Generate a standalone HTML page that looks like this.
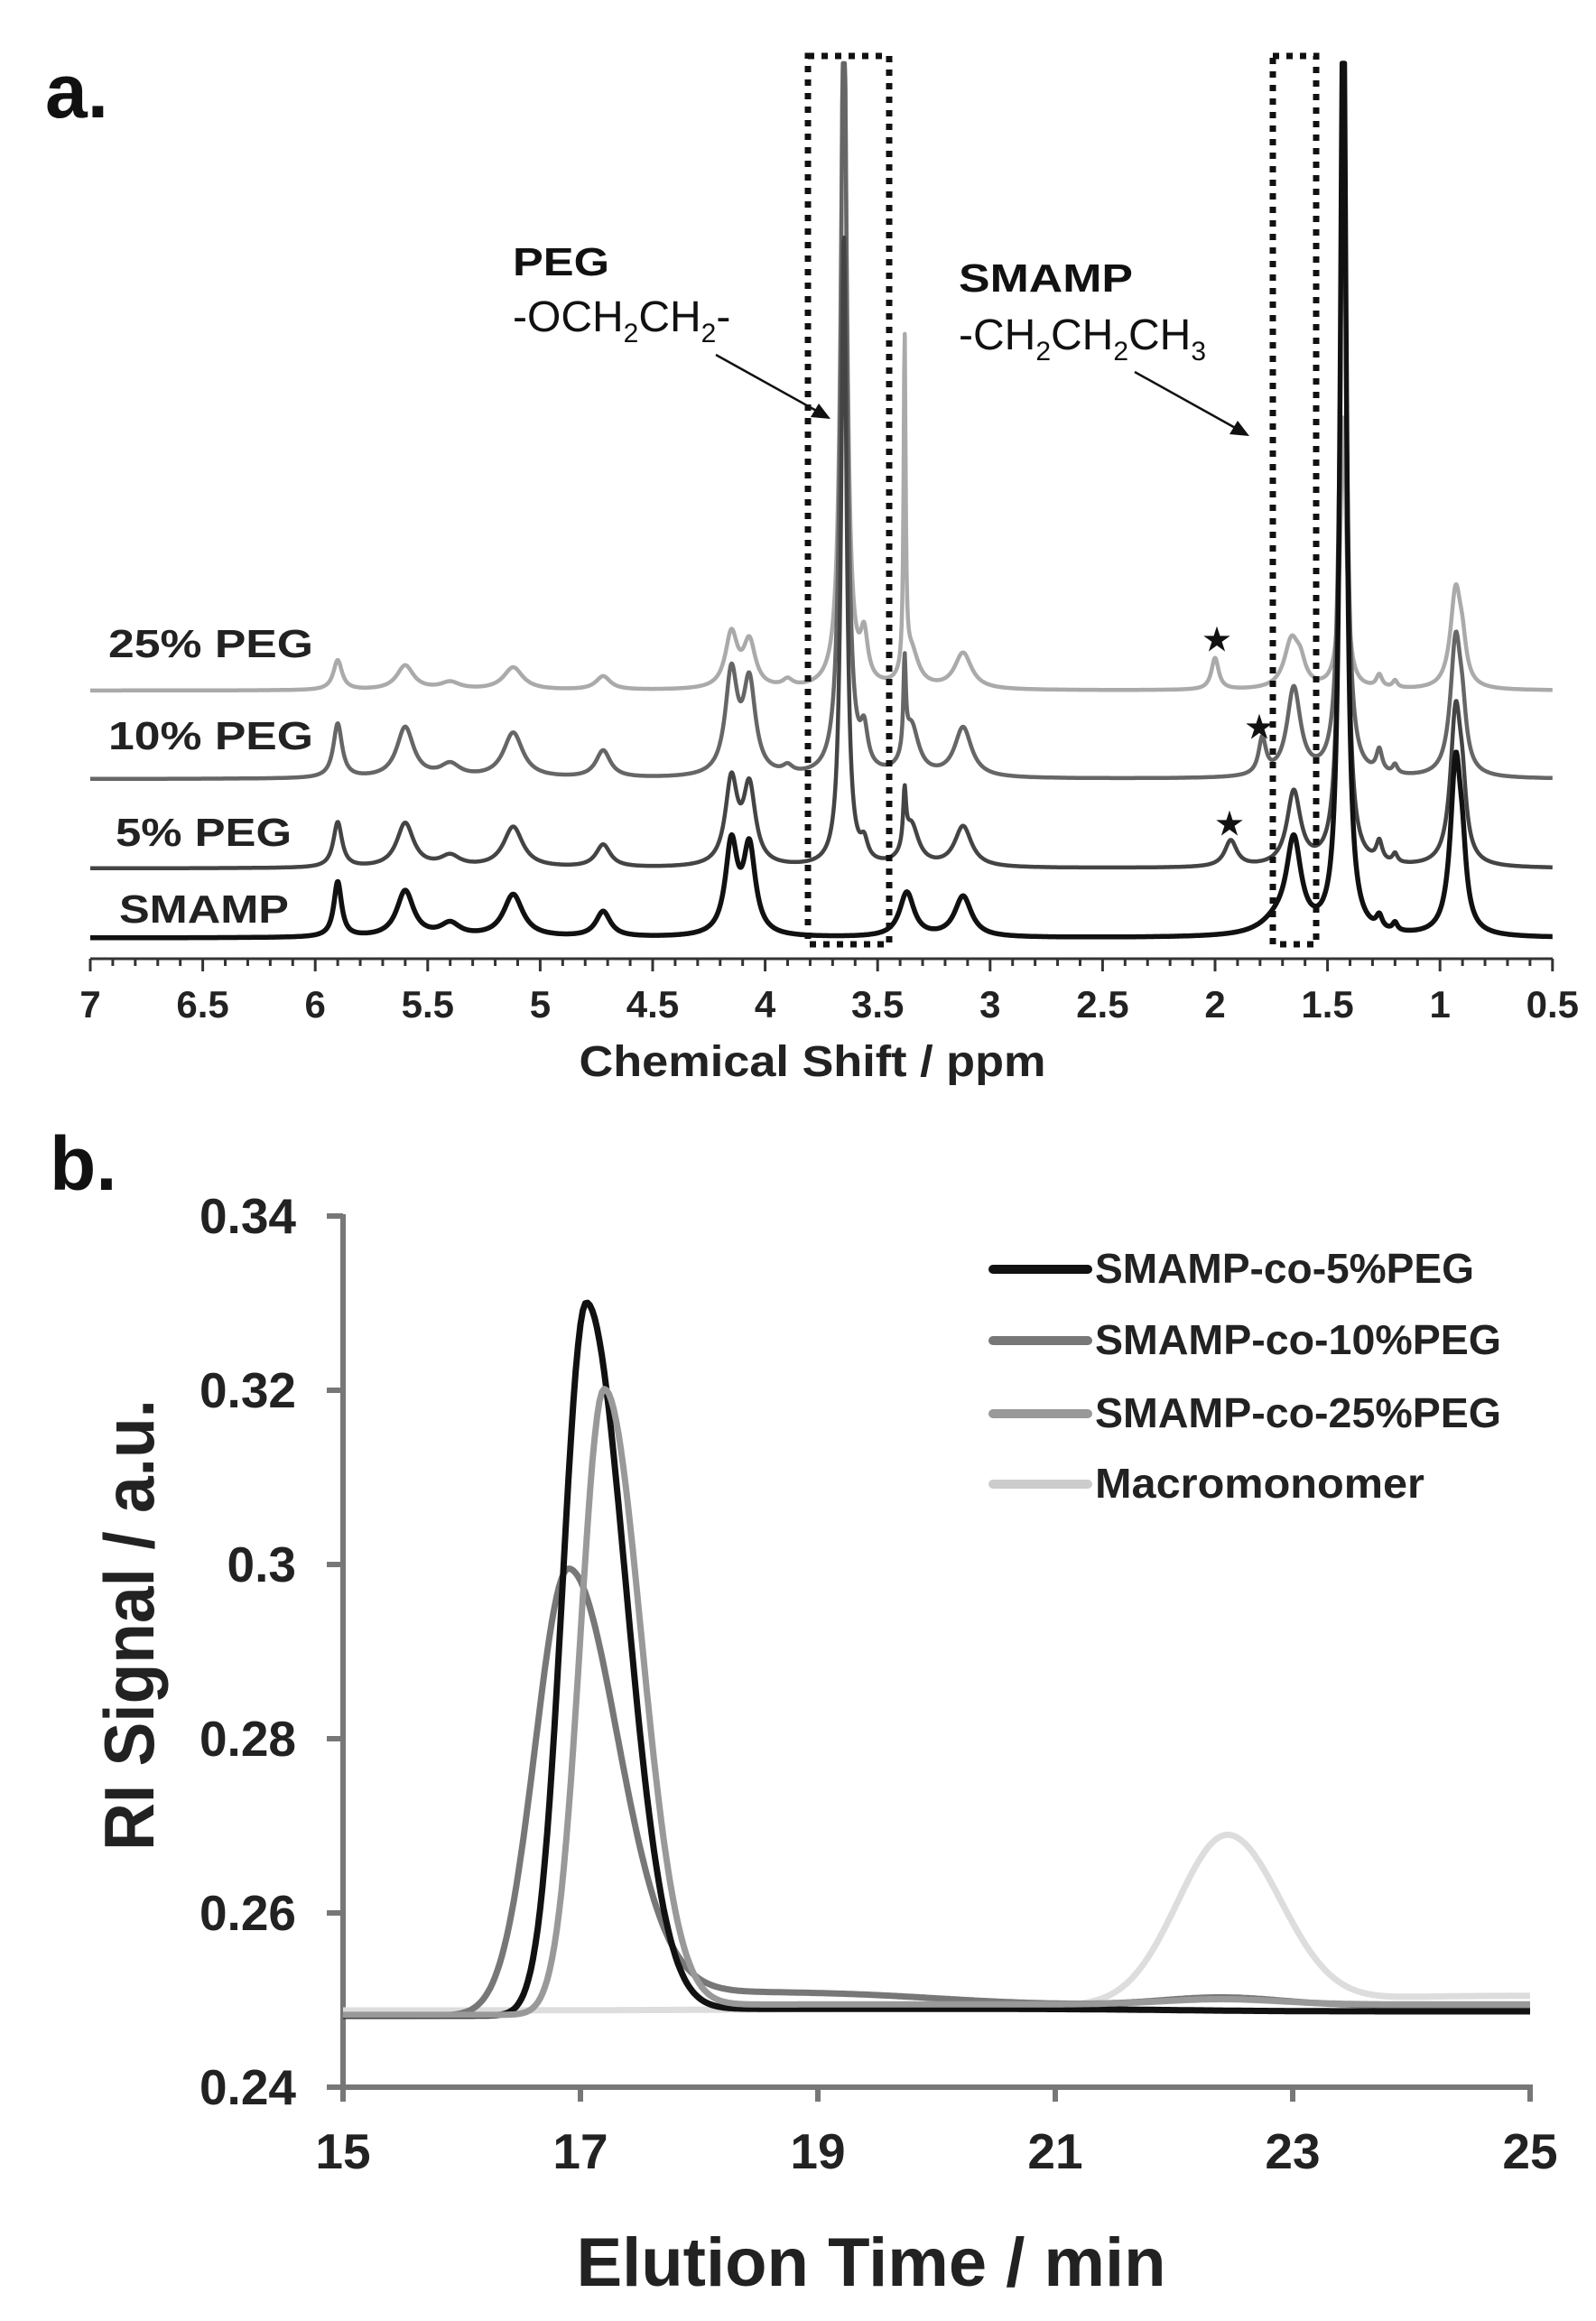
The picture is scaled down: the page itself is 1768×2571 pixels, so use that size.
<!DOCTYPE html>
<html><head><meta charset="utf-8"><style>
html,body{margin:0;padding:0;background:#fff}
svg{display:block}
text{font-family:"Liberation Sans",sans-serif;font-weight:bold}
</style></head><body>
<svg id="s" width="1768" height="2571" viewBox="0 0 1768 2571" xmlns="http://www.w3.org/2000/svg">
<rect width="1768" height="2571" fill="#fff"/>
<text x="50" y="130" font-size="84" fill="#111">a.</text>
<g id="nmr"></g>
<rect x="895" y="62" width="90" height="984" fill="none" stroke="#111" stroke-width="7" stroke-dasharray="7,8"/>
<rect x="1410" y="62" width="48" height="984" fill="none" stroke="#111" stroke-width="7" stroke-dasharray="7,8"/>
<line x1="100" y1="1062" x2="1720" y2="1062" stroke="#333" stroke-width="3"/>
<g id="ticks"></g>
<text x="900" y="1192" font-size="48" text-anchor="middle" fill="#222" textLength="517" lengthAdjust="spacingAndGlyphs">Chemical Shift / ppm</text>
<g font-size="44" fill="#222">
<text x="120" y="728" textLength="227" lengthAdjust="spacingAndGlyphs">25% PEG</text>
<text x="120" y="830" textLength="227" lengthAdjust="spacingAndGlyphs">10% PEG</text>
<text x="128" y="937" textLength="195" lengthAdjust="spacingAndGlyphs">5% PEG</text>
<text x="132" y="1022" textLength="188" lengthAdjust="spacingAndGlyphs">SMAMP</text>
</g>
<text x="568" y="305" font-size="44" fill="#111" textLength="107" lengthAdjust="spacingAndGlyphs">PEG</text>
<text x="568" y="367" font-size="48" fill="#111" style="font-weight:normal">-OCH<tspan font-size="30" dy="12">2</tspan><tspan dy="-12">CH</tspan><tspan font-size="30" dy="12">2</tspan><tspan dy="-12">-</tspan></text>
<text x="1062" y="323" font-size="44" fill="#111" textLength="193" lengthAdjust="spacingAndGlyphs">SMAMP</text>
<text x="1062" y="387" font-size="48" fill="#111" style="font-weight:normal">-CH<tspan font-size="30" dy="12">2</tspan><tspan dy="-12">CH</tspan><tspan font-size="30" dy="12">2</tspan><tspan dy="-12">CH</tspan><tspan font-size="30" dy="12">3</tspan></text>
<line x1="793" y1="393" x2="908" y2="457" stroke="#111" stroke-width="2.5"/>
<polygon points="920,464 898,462 907,447" fill="#111"/>
<line x1="1257" y1="412" x2="1372" y2="476" stroke="#111" stroke-width="2.5"/>
<polygon points="1384,483 1362,481 1371,466" fill="#111"/>
<g font-size="34" fill="#111" style="font-weight:normal">
<text x="1348" y="720" text-anchor="middle">★</text>
<text x="1395" y="817" text-anchor="middle">★</text>
<text x="1362" y="924" text-anchor="middle">★</text>
</g>

<text x="55" y="1318" font-size="84" fill="#111">b.</text>
<line x1="380" y1="1345" x2="380" y2="2315" stroke="#777" stroke-width="6"/>
<line x1="377" y1="2312" x2="1698" y2="2312" stroke="#777" stroke-width="6"/>
<g id="gticks"></g>
<g id="gpc"></g>
<text x="965" y="2532" font-size="76" text-anchor="middle" fill="#222">Elution Time / min</text>
<text transform="translate(170,1800) rotate(-90)" font-size="78" text-anchor="middle" fill="#222" textLength="500" lengthAdjust="spacingAndGlyphs">RI Signal / a.u.</text>
<g font-size="46" fill="#222">
<line x1="1100" y1="1406" x2="1205" y2="1406" stroke="#111" stroke-width="10" stroke-linecap="round"/><text x="1213" y="1421" textLength="420" lengthAdjust="spacingAndGlyphs">SMAMP-co-5%PEG</text>
<line x1="1100" y1="1485" x2="1205" y2="1485" stroke="#777" stroke-width="10" stroke-linecap="round"/><text x="1213" y="1500" textLength="450" lengthAdjust="spacingAndGlyphs">SMAMP-co-10%PEG</text>
<line x1="1100" y1="1566" x2="1205" y2="1566" stroke="#999" stroke-width="10" stroke-linecap="round"/><text x="1213" y="1581" textLength="450" lengthAdjust="spacingAndGlyphs">SMAMP-co-25%PEG</text>
<line x1="1100" y1="1644" x2="1205" y2="1644" stroke="#ccc" stroke-width="10" stroke-linecap="round"/><text x="1213" y="1659" textLength="365" lengthAdjust="spacingAndGlyphs">Macromonomer</text>
</g>
</svg>
<script>
var NS="http://www.w3.org/2000/svg";
function el(p,t,a,txt){var e=document.createElementNS(NS,t);for(var k in a)e.setAttribute(k,a[k]);if(txt!=null)e.textContent=txt;p.appendChild(e);return e;}
var px=function(ppm){return 100+(7-ppm)*249.2;};
var T=document.getElementById('ticks');
for(var i=0;i<=65;i++){var v=7-i*0.1;var x=px(v);var major=(i%5==0);el(T,'line',{x1:x,y1:1062,x2:x,y2:major?1076:1070,stroke:'#333','stroke-width':3});}
var lbl=['7','6.5','6','5.5','5','4.5','4','3.5','3','2.5','2','1.5','1','0.5'];
for(var i=0;i<lbl.length;i++){el(T,'text',{x:px(7-i*0.5),y:1127,'font-size':42,'text-anchor':'middle',fill:'#222'},lbl[i]);}
var specs=[
 {b:765,c:'#aaa',w:4.5,pk:[[5.9,33,.018],[5.6,27,.035],[5.4,8,.04],[5.12,25,.04],[4.72,15,.03],[4.15,60,.025],[4.07,50,.025],[3.9,8,.02],[3.65,800,.012],[3.56,50,.015],[3.38,373,.004],[3.35,40,.03],[3.12,40,.035],[2.0,35,.015],[1.66,53,.03],[1.62,20,.02],[1.43,300,.012],[1.27,14,.012],[1.2,8,.01],[0.93,108,.022],[0.9,30,.015]]},
 {b:863,c:'#666',w:4.5,pk:[[5.9,60,.018],[5.6,56,.035],[5.4,14,.04],[5.12,50,.04],[4.72,30,.03],[4.15,112,.025],[4.07,100,.025],[3.9,8,.02],[3.65,900,.012],[3.56,40,.015],[3.38,100,.005],[3.35,55,.03],[3.12,55,.035],[1.79,40,.015],[1.65,98,.028],[1.43,800,.012],[1.27,25,.012],[1.2,10,.01],[0.93,150,.022],[0.9,40,.015]]},
 {b:962,c:'#444',w:4.5,pk:[[5.9,50,.018],[5.6,49,.035],[5.4,12,.04],[5.12,45,.04],[4.72,25,.03],[4.15,93,.025],[4.07,85,.025],[3.65,700,.011],[3.56,20,.015],[3.38,60,.006],[3.35,45,.03],[3.12,45,.035],[1.93,29,.025],[1.65,82,.028],[1.43,900,.012],[1.27,22,.012],[1.2,10,.01],[0.93,169,.022],[0.9,50,.015]]},
 {b:1039,c:'#111',w:5.5,pk:[[5.9,61,.016],[5.6,51,.035],[5.4,14,.04],[5.12,47,.04],[4.72,28,.03],[4.15,100,.025],[4.07,95,.025],[3.37,49,.03],[3.12,45,.035],[1.65,99,.03],[1.72,15,.07],[1.43,1100,.012],[1.27,14,.012],[1.2,9,.01],[0.93,189,.022],[0.9,50,.015]]}
];
var N=document.getElementById('nmr');
specs.forEach(function(sp){
 var d='';
 for(var x=100;x<=1720;x+=0.7){var ppm=7-(x-100)/249.2;var y=0;sp.pk.forEach(function(p){var w=p[2]*1.3;var u=(ppm-p[0])/w;y+=p[1]/(1+u*u);});var yy=sp.b-y;if(yy<70)yy=70;d+=(d?'L':'M')+x.toFixed(1)+','+yy.toFixed(1);}
 el(N,'path',{d:d,fill:'none',stroke:sp.c,'stroke-width':sp.w,'stroke-linejoin':'round'});
});
var gx=function(t){return 380+(t-15)*131.5;}, gy=function(v){return 2312-(v-0.24)*9650;};
var G=document.getElementById('gticks');
[0.24,0.26,0.28,0.3,0.32,0.34].forEach(function(v){var y=gy(v);el(G,'line',{x1:362,y1:y,x2:380,y2:y,stroke:'#777','stroke-width':6});el(G,'text',{x:328,y:y+19,'font-size':55,'text-anchor':'end',fill:'#222'},Math.abs(v-0.3)<1e-9?'0.3':v.toFixed(2));});
[15,17,19,21,23,25].forEach(function(t){var x=gx(t);el(G,'line',{x1:x,y1:2312,x2:x,y2:2328,stroke:'#777','stroke-width':6});el(G,'text',{x:x,y:2402,'font-size':55,'text-anchor':'middle',fill:'#222'},t);});
function ag(t,m,h,sl,sr){var s=t<m?sl:sr;var u=(t-m)/s;return h*Math.exp(-0.5*u*u);}
function sig(t,c,w){return 1/(1+Math.exp(-(t-c)/w));}
var curves=[
 {c:'#ddd',f:function(t){return 0.2488+0.0007*sig(t,20,1)+ag(t,22.45,0.0195,0.42,0.45)+0.001*sig(t,23.5,0.3);}},
 {c:'#777',f:function(t){return 0.2482+ag(t,16.9,0.0513,0.28,0.42)+0.0028*sig(t,17.6,0.15)*(1-sig(t,20,0.5))+0.0012*sig(t,20,0.5)+ag(t,22.4,0.0009,0.5,0.5);}},
 {c:'#111',f:function(t){return 0.2482+ag(t,17.05,0.0818,0.2,0.33)+0.0008*sig(t,17.5,0.2)-0.0003*sig(t,22,0.5);}},
 {c:'#999',f:function(t){return 0.2483+ag(t,17.2,0.0717,0.2,0.31)+0.0012*sig(t,17.6,0.2)+ag(t,22.4,0.0006,0.5,0.5);}}
];
var Pg=document.getElementById('gpc');
curves.forEach(function(cv){var d='';for(var t=15;t<=25.001;t+=0.02){d+=(d?'L':'M')+gx(t).toFixed(1)+','+gy(cv.f(t)).toFixed(1);}el(Pg,'path',{d:d,fill:'none',stroke:cv.c,'stroke-width':7,'stroke-linejoin':'round'});});
</script>
</body></html>
